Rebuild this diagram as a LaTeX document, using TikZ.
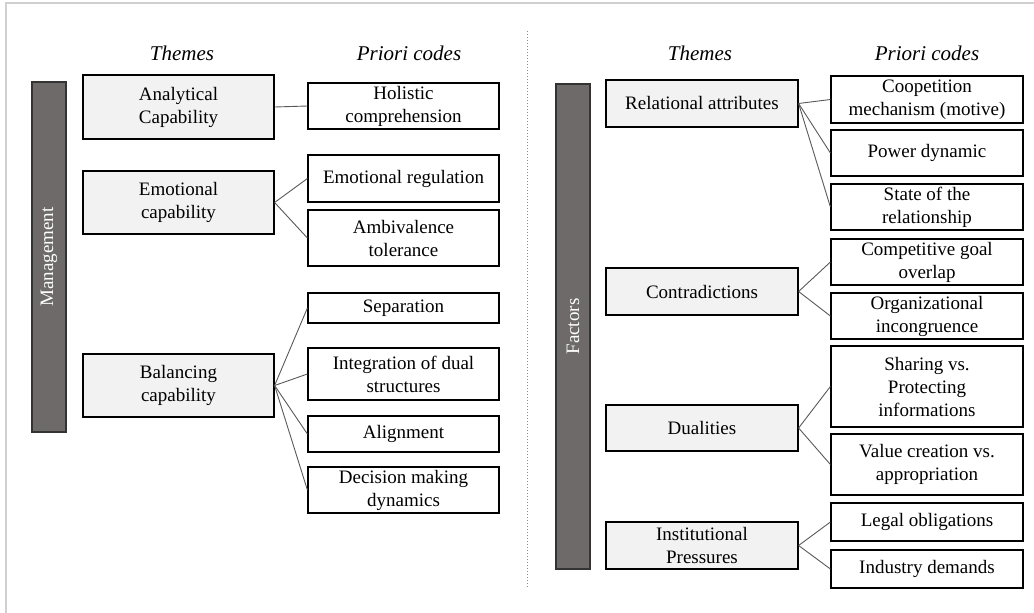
\documentclass[tikz,border=0pt]{standalone}
\usepackage{fontspec}
\setmainfont{Liberation Serif}
\definecolor{themefill}{HTML}{F2F2F2}
\definecolor{barfill}{HTML}{6E6A6A}
\definecolor{framegray}{HTML}{D0D0D0}

\begin{document}
\begin{tikzpicture}[
		x=1pt, y=-1pt,
		every node/.style={inner sep=0pt, align=center, font=\fontsize{19}{23}\selectfont},
		theme/.style={rectangle, draw, line width=1.2pt, fill=themefill, minimum width=191pt},
		code/.style={rectangle, draw, line width=1.2pt, fill=white, minimum width=191pt},
		bar/.style={rectangle, draw=black!80, line width=1.2pt, fill=barfill, text=white, rotate=90, minimum height=34pt},
		head/.style={font=\fontsize{21}{25}\selectfont\itshape},
		link/.style={draw=black!65, line width=0.9pt}
	]
  \useasboundingbox (0,0) rectangle (1034,613);
  \draw [framegray, line width=1.2pt] (6,613) -- (6,3) -- (1034,3);
  \draw [black!45, line width=1pt, dotted] (527,31) -- (527,587);

  % left panel: management
  \node (themes_l) [head] at (182,53) {Themes};
  \node (codes_l) [head] at (409,53) {Priori codes};
  \node (mgmt) [bar, minimum width=350pt] at (49,257) {Management};

  \node (analyt) [theme, minimum height=64pt] at (178.5,107) {Analytical\\Capability};
  \node (emot) [theme, minimum height=63pt] at (178.5,202.5) {Emotional\\capability};
  \node (balanc) [theme, minimum height=63pt] at (178.5,385.5) {Balancing\\capability};

  \node (holist) [code, minimum height=46pt] at (403.5,106) {Holistic\\comprehension};
  \node (emoreg) [code, minimum height=47pt] at (403.5,178.5) {Emotional regulation};
  \node (ambiv) [code, minimum height=56pt] at (403.5,238) {Ambivalence\\tolerance};
  \node (separ) [code, minimum height=30pt] at (403.5,308) {Separation};
  \node (integr) [code, minimum height=52pt] at (403.5,374) {Integration of dual\\structures};
  \node (align) [code, minimum height=36pt] at (403.5,434) {Alignment};
  \node (decis) [code, minimum height=46pt] at (403.5,490) {Decision making\\dynamics};

  \draw [link] (analyt.east) -- (holist.west);
  \draw [link] (emot.east) -- (emoreg.west);
  \draw [link] (emot.east) -- (ambiv.west);
  \draw [link] (balanc.east) -- (separ.west);
  \draw [link] (balanc.east) -- (integr.west);
  \draw [link] (balanc.east) -- (align.west);
  \draw [link] (balanc.east) -- (decis.west);

  % right panel: factors
  \node (themes_r) [head] at (700,53) {Themes};
  \node (codes_r) [head] at (927,53) {Priori codes};
  \node (factors) [bar, minimum width=485pt] at (573,326.5) {Factors};

  \node (relat) [theme, minimum width=192pt, minimum height=47pt] at (702,103.5) {Relational attributes};
  \node (contra) [theme, minimum width=192pt, minimum height=47pt] at (702,291.5) {Contradictions};
  \node (dual) [theme, minimum width=192pt, minimum height=46pt] at (702,428) {Dualities};
  \node (instit) [theme, minimum width=192pt, minimum height=47pt] at (702,545.5) {Institutional\\Pressures};

  \node (coop) [code, minimum width=192pt, minimum height=47pt] at (927,99.5) {Coopetition\\mechanism (motive)};
  \node (power) [code, minimum width=192pt, minimum height=46pt] at (927,153) {Power dynamic};
  \node (state) [code, minimum width=192pt, minimum height=46pt] at (927,207) {State of the\\relationship};
  \node (compet) [code, minimum width=192pt, minimum height=46pt] at (927,262) {Competitive goal\\overlap};
  \node (organ) [code, minimum width=192pt, minimum height=46pt] at (927,316) {Organizational\\incongruence};
  \node (sharing) [code, minimum width=192pt, minimum height=81pt] at (927,386.5) {Sharing vs.\\Protecting\\informations};
  \node (value) [code, minimum width=192pt, minimum height=61pt] at (927,464.5) {Value creation vs.\\appropriation};
  \node (legal) [code, minimum width=192pt, minimum height=38pt] at (927,522) {Legal obligations};
  \node (industry) [code, minimum width=192pt, minimum height=38pt] at (927,569) {Industry demands};

  \draw [link] (relat.east) -- (coop.west);
  \draw [link] (relat.east) -- (power.west);
  \draw [link] (relat.east) -- (state.west);
  \draw [link] (contra.east) -- (compet.west);
  \draw [link] (contra.east) -- (organ.west);
  \draw [link] (dual.east) -- (sharing.west);
  \draw [link] (dual.east) -- (value.west);
  \draw [link] (instit.east) -- (legal.west);
  \draw [link] (instit.east) -- (industry.west);
\end{tikzpicture}
\end{document}
